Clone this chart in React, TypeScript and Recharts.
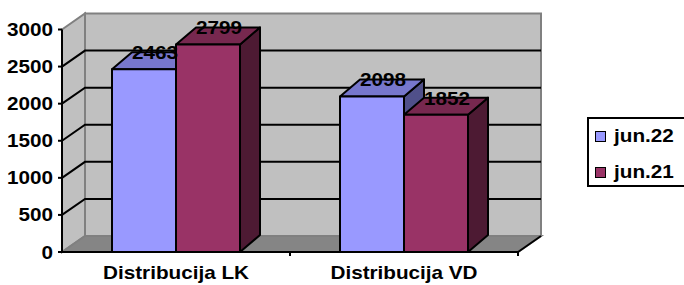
import React from 'react';
import {
  BarChart,
  Bar,
  XAxis,
  YAxis,
  CartesianGrid,
  ReferenceArea,
  Legend,
  LabelList,
} from 'recharts';

const categories = ['Distribucija LK', 'Distribucija VD'];
const jun22 = [2463, 2098];
const jun21 = [2799, 1852];
const yTicks = [0, 500, 1000, 1500, 2000, 2500, 3000];
const gridValues = [500, 1000, 1500, 2000, 2500];

const data = categories.map((name, i) => ({
  name,
  'jun.22': jun22[i],
  'jun.21': jun21[i],
}));

// 3D look
const WALL_DX = 23;
const WALL_DY = -16;
const BAR_DX = 20;
const BAR_DY = -17;
const FONT = '"Liberation Sans", Arial, sans-serif';
const SX = 1.15;

const blue = { front: '#9999FF', top: '#7777CC', side: '#50508A' };
const red = { front: '#993366', top: '#77284F', side: '#4D1A33' };

function BoldText({ x, y, anchor, children }: any) {
  return (
    <text
      transform={`translate(${x},${y}) scale(${SX},1)`}
      textAnchor={anchor}
      fontFamily={FONT}
      fontWeight="bold"
      fontSize={18}
      fill="#000"
    >
      {children}
    </text>
  );
}

function Walls(props: any) {
  const { x, y, width: w, height: h } = props;
  const dx = WALL_DX;
  const dy = WALL_DY;
  return (
    <g>
      <rect x={x + dx} y={y + dy} width={w} height={h} fill="#C0C0C0" stroke="#808080" strokeWidth={2} />
      <polygon
        points={`${x},${y} ${x + dx},${y + dy} ${x + dx},${y + h + dy} ${x},${y + h}`}
        fill="#C0C0C0"
        stroke="#808080"
        strokeWidth={2}
      />
      <polygon
        points={`${x},${y + h} ${x + dx},${y + h + dy} ${x + w + dx},${y + h + dy} ${x + w},${y + h}`}
        fill="#858585"
        stroke="#808080"
        strokeWidth={2}
      />
      <line x1={x + w} y1={y + h} x2={x + w + dx} y2={y + h + dy} stroke="#000" strokeWidth={2} />
    </g>
  );
}

function GridLine(props: any) {
  const { x1, y1, x2, key } = props;
  return (
    <g key={key}>
      <polyline
        points={`${x1},${y1} ${x1 + WALL_DX},${y1 + WALL_DY} ${x2 + WALL_DX},${y1 + WALL_DY}`}
        fill="none"
        stroke="#000"
        strokeWidth={2}
      />
    </g>
  );
}

function Box3D(props: any) {
  const { x, y, width: w, height: h, colors } = props;
  if (!w || !h) return null;
  const dx = BAR_DX;
  const dy = BAR_DY;
  return (
    <g stroke="#000" strokeWidth={2} strokeLinejoin="round">
      <polygon
        points={`${x + w},${y} ${x + w + dx},${y + dy} ${x + w + dx},${y + h + dy} ${x + w},${y + h}`}
        fill={colors.side}
      />
      <polygon
        points={`${x},${y} ${x + dx},${y + dy} ${x + w + dx},${y + dy} ${x + w},${y}`}
        fill={colors.top}
      />
      <rect x={x} y={y} width={w} height={h} fill={colors.front} />
    </g>
  );
}

function BarValue(props: any) {
  const { x, y, width, value } = props;
  return (
    <BoldText x={x + width / 2 + BAR_DX / 2 + 1} y={y - 10} anchor="middle">
      {value}
    </BoldText>
  );
}

// recharts hands the tick x as axis - tickSize - tickMargin (62 - 8)
function YTick(props: any) {
  const { x, y, payload } = props;
  const axisX = x + 8;
  return (
    <g>
      <line x1={axisX - 4} y1={y} x2={axisX} y2={y} stroke="#000" strokeWidth={2} />
      <BoldText x={axisX - 9} y={y + 6.5} anchor="end">
        {payload.value}
      </BoldText>
    </g>
  );
}

function XTick(props: any) {
  const { x, y, payload } = props;
  const off = payload.offset || 0;
  return (
    <g>
      {off ? <line x1={x + off} y1={y - 8} x2={x + off} y2={y - 4} stroke="#000" strokeWidth={2} /> : null}
      <BoldText x={x} y={y + 19} anchor="middle">
        {payload.value}
      </BoldText>
    </g>
  );
}

function LegendBox() {
  const items = [
    { label: 'jun.22', color: blue.front },
    { label: 'jun.21', color: red.front },
  ];
  return (
    <div
      style={{
        width: 95,
        height: 66,
        border: '2px solid #000',
        background: '#fff',
        position: 'relative',
      }}
    >
      {items.map((it, i) => (
        <div key={it.label} style={{ position: 'absolute', left: 6, top: 12 + i * 36, height: 11 }}>
          <div
            style={{
              position: 'absolute',
              left: 0,
              top: 0,
              width: 9,
              height: 9,
              background: it.color,
              border: '1px solid #000',
            }}
          />
          <span
            style={{
              position: 'absolute',
              left: 19,
              top: -5,
              fontFamily: FONT,
              fontWeight: 'bold',
              fontSize: 18,
              lineHeight: '20px',
              whiteSpace: 'nowrap',
              transform: `scale(${SX},1)`,
              transformOrigin: 'left center',
            }}
          >
            {it.label}
          </span>
        </div>
      ))}
    </div>
  );
}

export default function App() {
  return (
    <div style={{ position: 'absolute', left: 0, top: 0, width: 684, height: 285, background: '#fff' }}>
      <BarChart
        width={684}
        height={285}
        data={data}
        margin={{ top: 29.5, right: 166, bottom: 0, left: 0 }}
        barSize={64}
        barGap={0}
      >
        <ReferenceArea y1={0} y2={3000} shape={Walls} ifOverflow="visible" zIndex={-150} />
        <CartesianGrid vertical={false} horizontalValues={gridValues} horizontal={GridLine} />
        <XAxis
          dataKey="name"
          height={33}
          axisLine={{ stroke: '#000', strokeWidth: 2 }}
          tickLine={false}
          tick={XTick}
          interval={0}
        />
        <YAxis
          width={62}
          domain={[0, 3000]}
          ticks={yTicks}
          interval={0}
          axisLine={{ stroke: '#000', strokeWidth: 2 }}
          tickLine={false}
          tick={YTick}
        />
        <Legend
          layout="horizontal"
          align="center"
          verticalAlign="middle"
          wrapperStyle={{ position: 'absolute', left: 587, top: 117, width: 99, height: 70 }}
          content={LegendBox}
        />
        <Bar
          dataKey="jun.22"
          isAnimationActive={false}
          shape={(p: any) => <Box3D {...p} colors={blue} />}
        >
          <LabelList dataKey="jun.22" content={BarValue} />
        </Bar>
        <Bar
          dataKey="jun.21"
          isAnimationActive={false}
          shape={(p: any) => <Box3D {...p} colors={red} />}
        >
          <LabelList dataKey="jun.21" content={BarValue} />
        </Bar>
      </BarChart>
    </div>
  );
}
